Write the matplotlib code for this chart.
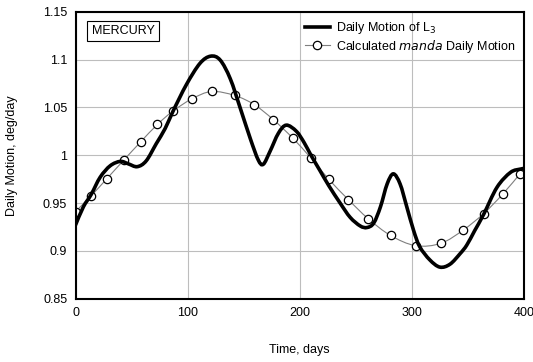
import matplotlib
matplotlib.use('Agg')
import matplotlib.pyplot as plt
from matplotlib.lines import Line2D
from matplotlib.path import Path
from matplotlib.patches import PathPatch

# daily motion of L3
l3_days = [0, 7, 14, 22, 31, 40, 47, 55, 63, 72, 80, 87, 99, 111, 120.5,
           129, 138, 147, 156, 163, 167.5, 173.5, 181, 188, 197, 204, 210,
           218, 226, 236, 245, 254, 260, 266, 272, 278, 283.5, 289.5, 295.5,
           301.5, 307, 316, 325, 334, 343, 349, 356, 364, 376, 388, 397, 400]
l3_vals = [0.927, 0.946, 0.959, 0.977, 0.989, 0.9935, 0.991, 0.988, 0.994,
           1.012, 1.028, 1.046, 1.074, 1.096, 1.1035,
           1.0995, 1.080, 1.049, 1.017, 0.995, 0.9905, 1.004, 1.023, 1.0314,
           1.025, 1.013, 1.000,
           0.984, 0.968, 0.950, 0.935, 0.926, 0.9244, 0.929, 0.946, 0.970,
           0.9805, 0.970, 0.946,
           0.9216, 0.9044, 0.8906, 0.883, 0.886, 0.897, 0.906, 0.921, 0.938,
           0.9665, 0.982, 0.9855, 0.986]

# calculated manda daily motion (circles)
manda_days = [0, 14, 28, 43, 58, 73, 87, 104, 121.5, 142, 159.5, 176.5, 194,
              210, 226, 243.5, 261, 281, 303.5, 326, 346, 364, 381, 396.5]
manda_vals = [0.941, 0.9576, 0.9755, 0.9948, 1.0138, 1.0321, 1.0462, 1.059,
              1.0666, 1.0624, 1.0528, 1.0371, 1.0176, 0.9969, 0.9747, 0.9534,
              0.9337, 0.9161, 0.9054, 0.9079, 0.9219, 0.9389, 0.9592, 0.9806]

y_ticks = [0.85, 0.9, 0.95, 1, 1.05, 1.1, 1.15]
x_ticks = [0, 100, 200, 300, 400]


def smooth_path(xs, ys):
    # Excel-style smoothed line: cubic bezier segments through the points
    verts = [(xs[0], ys[0])]
    codes = [Path.MOVETO]
    n = len(xs)
    for i in range(n - 1):
        x0, y0 = (xs[i - 1], ys[i - 1]) if i > 0 else (xs[i], ys[i])
        x1, y1 = xs[i], ys[i]
        x2, y2 = xs[i + 1], ys[i + 1]
        x3, y3 = (xs[i + 2], ys[i + 2]) if i + 2 < n else (x2, y2)
        verts += [(x1 + (x2 - x0) / 6, y1 + (y2 - y0) / 6),
                  (x2 - (x3 - x1) / 6, y2 - (y3 - y1) / 6),
                  (x2, y2)]
        codes += [Path.CURVE4] * 3
    return Path(verts, codes)


plt.rcParams['font.family'] = ['Liberation Sans', 'DejaVu Sans']

fig = plt.figure(figsize=(5.33, 3.62), dpi=100)
ax = fig.add_axes([0.1417, 0.1749, 0.8413, 0.7928])

ax.add_patch(PathPatch(smooth_path(manda_days, manda_vals), facecolor='none',
                       edgecolor='#7f7f7f', lw=0.8, zorder=3))
ax.plot(manda_days, manda_vals, linestyle='none', marker='o',
        markersize=6, markerfacecolor='white', markeredgecolor='black',
        markeredgewidth=0.9, zorder=3)
ax.add_patch(PathPatch(smooth_path(l3_days, l3_vals), facecolor='none',
                       edgecolor='black', lw=2.6, joinstyle='round',
                       capstyle='butt', zorder=4))

ax.set_xlim(0, 400)
ax.set_ylim(0.85, 1.15)
ax.set_xticks(x_ticks)
ax.set_yticks(y_ticks)
ax.set_xticklabels([str(t) for t in x_ticks])
ax.set_yticklabels(['%g' % t for t in y_ticks])
ax.tick_params(length=0, labelsize=9, pad=6)
ax.grid(True, color='#bdbdbd', lw=0.8)
ax.set_axisbelow(True)
for s in ax.spines.values():
    s.set_linewidth(1.5)
    s.set_color('black')
    s.set_zorder(5)

ax.set_xlabel('Time, days', fontsize=9, labelpad=18)
ax.set_ylabel('Daily Motion, deg/day', fontsize=9, labelpad=18)

ax.text(0.106, 0.933, 'MERCURY', transform=ax.transAxes, fontsize=9,
        ha='center', va='center',
        bbox=dict(boxstyle='square,pad=0.35', facecolor='white',
                  edgecolor='black', lw=0.8))

handles = [Line2D([], [], color='black', lw=2.6),
           Line2D([], [], color='#7f7f7f', lw=0.8, marker='o', markersize=6,
                  markerfacecolor='white', markeredgecolor='black',
                  markeredgewidth=0.9)]
labels = ['Daily Motion of L$_3$', 'Calculated $\\it{manda}$ Daily Motion']
ax.legend(handles, labels, loc='upper right', frameon=False, fontsize=9,
          handlelength=2.0, handletextpad=0.5, labelspacing=0.1,
          borderaxespad=0.3, bbox_to_anchor=(1.0, 1.0))

fig.savefig('out.png', dpi=100)
